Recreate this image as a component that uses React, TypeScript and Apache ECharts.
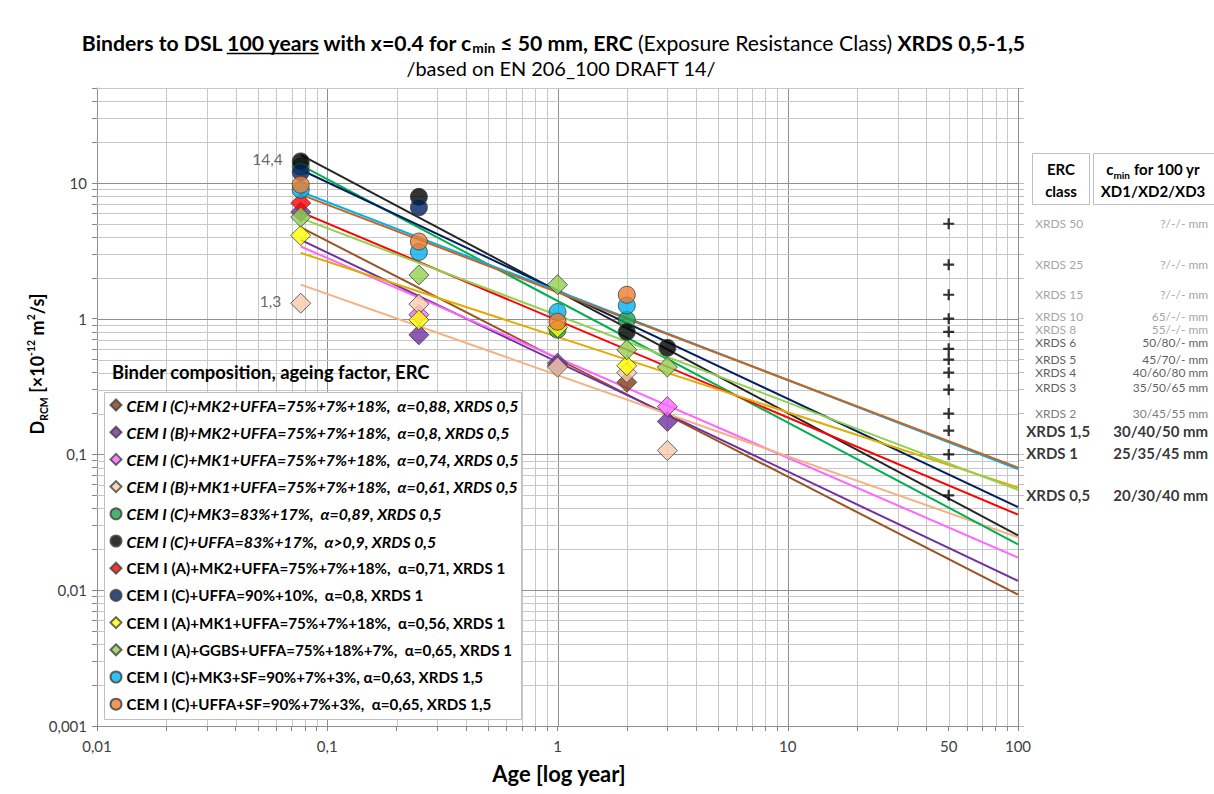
import React, { useEffect, useRef } from 'react';
import * as echarts from 'echarts';

// ---------------- data ----------------
const ageYears = [0.0767, 0.25, 1, 2, 3];

const binderLabels = [
  'CEM I (C)+MK2+UFFA=75%+7%+18%,  α=0,88, XRDS 0,5',
  'CEM I (B)+MK2+UFFA=75%+7%+18%,  α=0,8, XRDS 0,5',
  'CEM I (C)+MK1+UFFA=75%+7%+18%,  α=0,74, XRDS 0,5',
  'CEM I (B)+MK1+UFFA=75%+7%+18%,  α=0,61, XRDS 0,5',
  'CEM I (C)+MK3=83%+17%,  α=0,89, XRDS 0,5',
  'CEM I (C)+UFFA=83%+17%,  α>0,9, XRDS 0,5',
  'CEM I (A)+MK2+UFFA=75%+7%+18%,  α=0,71, XRDS 1',
  'CEM I (C)+UFFA=90%+10%,  α=0,8, XRDS 1',
  'CEM I (A)+MK1+UFFA=75%+7%+18%,  α=0,56, XRDS 1',
  'CEM I (A)+GGBS+UFFA=75%+18%+7%,  α=0,65, XRDS 1',
  'CEM I (C)+MK3+SF=90%+7%+3%, α=0,63, XRDS 1,5',
  'CEM I (C)+UFFA+SF=90%+7%+3%,  α=0,65, XRDS 1,5',
];

// measured D_RCM values at ageYears (null = not visible)
const dC_MK2_UFFA = [null, null, 0.45, 0.34, null];
const dB_MK2_UFFA = [6.1, 0.76, 0.47, null, 0.175];
const dC_MK1_UFFA = [null, 1.07, null, null, 0.225];
const dB_MK1_UFFA = [1.3, 1.28, 0.44, 0.40, 0.107];
const dC_MK3 = [13.2, null, 0.83, 0.98, null];
const dC_UFFA83 = [14.4, 7.9, null, 0.80, 0.61];
const dA_MK2_UFFA = [7.1, null, null, null, null];
const dC_UFFA90 = [12.0, 6.6, null, null, null];
const dA_MK1_UFFA = [4.1, 0.98, 0.86, 0.45, null];
const dA_GGBS_UFFA = [5.6, 2.1, 1.78, 0.59, 0.44];
const dC_MK3_SF = [8.9, 3.1, 1.12, 1.25, null];
const dC_UFFA_SF = [9.7, 3.7, 0.95, 1.5, null];

const binderValues = [
  dC_MK2_UFFA, dB_MK2_UFFA, dC_MK1_UFFA, dB_MK1_UFFA, dC_MK3, dC_UFFA83,
  dA_MK2_UFFA, dC_UFFA90, dA_MK1_UFFA, dA_GGBS_UFFA, dC_MK3_SF, dC_UFFA_SF,
];

// power trend lines: value at first age and at 100 years
const trendAges = [0.0767, 100];
const trendStart = [4.7, 3.8, 3.4, 1.78, 13.5, 16.1, 6.1, 12.5, 3.05, 5.5, 8.6, 8.2];
const trendEnd = [0.0093, 0.0117, 0.0174, 0.0245, 0.0218, 0.0254, 0.036, 0.041, 0.057, 0.055, 0.078, 0.080];

// ERC classes (D at 50 years) and cover table
const ercAge = 50;
const ercClasses = ['XRDS 50', 'XRDS 25', 'XRDS 15', 'XRDS 10', 'XRDS 8', 'XRDS 6', 'XRDS 5', 'XRDS 4', 'XRDS 3', 'XRDS 2', 'XRDS 1,5', 'XRDS 1', 'XRDS 0,5'];
const ercLevels = [5, 2.5, 1.5, 1.0, 0.8, 0.6, 0.5, 0.4, 0.3, 0.2, 0.15, 0.1, 0.05];
const ercCover = ['?/-/- mm', '?/-/- mm', '?/-/- mm', '65/-/- mm', '55/-/- mm', '50/80/- mm', '45/70/- mm', '40/60/80 mm', '35/50/65 mm', '30/45/55 mm', '30/40/50 mm', '25/35/45 mm', '20/30/40 mm'];

// axis ticks
const xLabelValues = [0.01, 0.1, 1, 10, 50, 100];
const yLabelValues = [0.001, 0.01, 0.1, 1, 10];
const xDecades = [0.01, 0.1, 1, 10];
const yDecades = [0.001, 0.01, 0.1, 1, 10];
const decadeSteps = [1, 2, 3, 4, 5, 6, 7, 8, 9];
const X_MIN = 0.01, X_MAX = 100, Y_MIN = 0.001, Y_MAX = 50;

// ---------------- styles ----------------
const FONT = 'Lato, "Noto Sans", sans-serif';
const markerColors = ['#7F3F1A', '#7030A0', '#FF66FF', '#F8CBAD', '#1AA050', '#000000', '#FF0000', '#002060', '#FFFF00', '#92D050', '#00B0F0', '#ED7D31'];
const lineColors = ['#9C5221', '#7030A0', '#FF66FF', '#F4B183', '#00B050', '#262626', '#FF0000', '#002060', '#E0AC00', '#92D050', '#00B0F0', '#C8641E'];
const markerShapes = ['diamond', 'diamond', 'diamond', 'diamond', 'circle', 'circle', 'diamond', 'circle', 'diamond', 'diamond', 'circle', 'circle'];

const fmt = (v: number) => String(Number(v.toPrecision(6))).replace('.', ',');

let measureCtx: CanvasRenderingContext2D | null = null;
function measure(text: string, font: string) {
  if (!measureCtx) measureCtx = document.createElement('canvas').getContext('2d') as CanvasRenderingContext2D;
  measureCtx.font = font;
  return measureCtx.measureText(text).width;
}
// font size at which `text` is `target` px wide
function fitSize(text: string, prefix: string, target: number) {
  const w = measure(text, `${prefix} 20px ${FONT}`);
  return (20 * target) / w;
}

function buildOption() {
  const gridData: number[][] = [];
  xDecades.forEach((d) => decadeSteps.forEach((s) => gridData.push([d * s, 1, s === 1 ? 1 : 0])));
  gridData.push([X_MAX, 1, 1]);
  yDecades.forEach((d) => decadeSteps.forEach((s) => { if (d * s <= Y_MAX + 1e-9) gridData.push([1, d * s, s === 1 ? 3 : 2]); }));
  for (const s of [2, 3, 4, 5]) { if (10 * s <= Y_MAX) gridData.push([1, 10 * s, 2]); }

  const tickValsX: number[] = [];
  xDecades.forEach((d) => decadeSteps.forEach((s) => tickValsX.push(d * s)));
  tickValsX.push(X_MAX);
  const tickValsY: number[] = [];
  yDecades.forEach((d) => decadeSteps.forEach((s) => { if (d * s <= Y_MAX) tickValsY.push(d * s); }));
  [20, 30, 40, 50].forEach((v) => tickValsY.push(v));

  const series: any[] = [];
  series.push({
    type: 'custom',
    name: 'grid',
    silent: true,
    z: 1,
    encode: { x: 0, y: 1 },
    data: gridData,
    renderItem: (params: any, api: any) => {
      const cs = params.coordSys;
      const kind = api.value(2);
      const major = kind === 1 || kind === 3;
      const stroke = major ? '#8f8f8f' : '#c8c8c8';
      if (kind < 2) {
        const x = Math.round(api.coord([api.value(0), 1])[0]) + 0.5;
        return { type: 'line', shape: { x1: x, y1: cs.y, x2: x, y2: cs.y + cs.height }, style: { stroke, lineWidth: 1 } };
      }
      const y = Math.round(api.coord([1, api.value(1)])[1]) + 0.5;
      return { type: 'line', shape: { x1: cs.x, y1: y, x2: cs.x + cs.width, y2: y }, style: { stroke, lineWidth: 1 } };
    },
  });

  binderLabels.forEach((name, i) => {
    series.push({
      type: 'line',
      name: name + ' (trend)',
      data: trendAges.map((a, j) => [a, j === 0 ? trendStart[i] : trendEnd[i]]),
      showSymbol: false,
      symbol: 'none',
      lineStyle: { color: lineColors[i], width: 2 },
      z: 4,
      silent: true,
    });
  });

  binderLabels.forEach((name, i) => {
    const data: any[] = [];
    binderValues[i].forEach((v, j) => {
      if (v == null) return;
      const item: any = { value: [ageYears[j], v] };
      if (j === 0 && (i === 5 || i === 3)) {
        item.label = {
          show: true, position: 'left', distance: 9, formatter: fmt(v),
          fontFamily: FONT, fontSize: 15.5, color: '#404040', offset: [0, -2],
        };
      }
      data.push(item);
    });
    series.push({
      type: 'scatter',
      name,
      data,
      symbol: markerShapes[i],
      symbolSize: markerShapes[i] === 'circle' ? 17 : 20,
      itemStyle: { color: markerColors[i], borderColor: '#404040', borderWidth: 1 },
      z: 5,
    });
  });

  const labelNudge: Record<string, number> = { 'XRDS 10': -2, 'XRDS 8': -2, 'XRDS 6': -6, 'XRDS 3': -2, 'XRDS 1': -1 };
  series.push({
    type: 'scatter',
    name: 'ERC',
    symbol: 'path://M4,0H6V4H10V6H6V10H4V6H0V4H4Z',
    symbolSize: 11,
    itemStyle: { color: '#000' },
    z: 6,
    data: ercLevels.map((lvl, k) => {
      const cls = ercClasses[k];
      const bold = lvl < 0.2;
      const dark = lvl >= 0.3 && lvl <= 0.6;
      const mid = lvl === 0.2;
      const col = bold ? '#000' : dark ? '#333333' : mid ? '#555555' : '#8c8c8c';
      const fs = bold ? 15 : 12;
      const lh = bold ? 18 : 12;
      return {
        value: [ercAge, lvl],
        label: {
          show: true,
          position: 'right',
          distance: 0,
          offset: [bold ? 72 : 81, labelNudge[cls] || 0],
          formatter: `{a|${cls}}{b|${ercCover[k]}}`,
          rich: {
            a: { width: bold ? 78 : 60, align: 'left', fontFamily: FONT, fontSize: fs, lineHeight: lh, fontWeight: bold ? 'bold' : 'normal', color: col },
            b: { width: bold ? 104 : 113, align: 'right', fontFamily: FONT, fontSize: fs, lineHeight: lh, fontWeight: bold ? 'bold' : 'normal', color: col },
          },
        },
      };
    }),
  });

  // Title pieces, fitted to the reference width, and underline measurement
  const p0 = 'Binders to DSL ';
  const p1 = '100 years';
  const p2 = ' with x=0.4 for c';
  const p3 = 'min';
  const p4 = ' ≤ 50 mm, ERC ';
  const p5 = '(Exposure Resistance Class)';
  const p6 = ' XRDS 0,5-1,5';
  const widthAt = (fs: number) =>
    measure(p0 + p1 + p2, `bold ${fs}px ${FONT}`) + measure(p3, `bold ${fs * 0.65}px ${FONT}`) +
    measure(p4, `bold ${fs}px ${FONT}`) + measure(p5, `normal ${fs}px ${FONT}`) + measure(p6, `bold ${fs}px ${FONT}`);
  const TF = (18 * 945) / widthAt(18);
  const W = widthAt(TF);
  const titleCx = 553;
  const ulX1 = titleCx - W / 2 + measure(p0, `bold ${TF}px ${FONT}`);
  const ulX2 = ulX1 + measure(p1, `bold ${TF}px ${FONT}`);

  const subText = '/based on EN 206_100 DRAFT 14/';
  const subFS = fitSize(subText, 'normal', 310);
  const legendItalicFS = fitSize(binderLabels[0], 'italic bold', 392);
  const legendUprightFS = fitSize(binderLabels[6], 'bold', 379);
  const headFS = fitSize('Binder composition, ageing factor, ERC', 'bold', 318);
  const xNameFS = fitSize('Age [log year]', 'bold', 134);

  const graphic: any[] = [
    {
      type: 'text', x: titleCx, y: 43, z: 20,
      style: {
        text: `{b|${p0}${p1}${p2}}{s|${p3}}{b|${p4}}{n|${p5}}{b|${p6}}`,
        align: 'center', verticalAlign: 'middle',
        rich: {
          b: { fontFamily: FONT, fontSize: TF, fontWeight: 'bold', fill: '#000', lineHeight: TF + 2 },
          n: { fontFamily: FONT, fontSize: TF, fontWeight: 'normal', fill: '#000', lineHeight: TF + 2 },
          s: { fontFamily: FONT, fontSize: TF * 0.65, fontWeight: 'bold', fill: '#000', lineHeight: TF * 0.65, verticalAlign: 'bottom' },
        },
      },
    },
    { type: 'line', z: 20, shape: { x1: ulX1, y1: 53.5, x2: ulX2, y2: 53.5 }, style: { stroke: '#000', lineWidth: 1.4 } },
    {
      type: 'text', x: 561, y: 68, z: 20,
      style: { text: subText, align: 'center', verticalAlign: 'middle', fontFamily: FONT, fontSize: subFS, lineHeight: subFS, fill: '#000' },
    },
    {
      type: 'text', x: 559, y: 773, z: 20,
      style: { text: 'Age [log year]', align: 'center', verticalAlign: 'middle', fontFamily: FONT, fontSize: xNameFS, fontWeight: 'bold', fill: '#000' },
    },
    {
      type: 'text', x: 37, y: 364, rotation: Math.PI / 2, z: 20,
      style: {
        text: '{b|D}{s|RCM}{b| [×10}{p|-12}{b| m}{p|2}{b|/s]}',
        align: 'center', verticalAlign: 'middle',
        rich: {
          b: { fontFamily: FONT, fontSize: 18, fontWeight: 'bold', fill: '#000', lineHeight: 24 },
          s: { fontFamily: FONT, fontSize: 10.5, fontWeight: 'bold', fill: '#000', lineHeight: 12, verticalAlign: 'bottom' },
          p: { fontFamily: FONT, fontSize: 10.5, fontWeight: 'bold', fill: '#000', lineHeight: 12, verticalAlign: 'top' },
        },
      },
    },
    // legend frame + heading
    { type: 'rect', z: 3, shape: { x: 104.5, y: 392.5, width: 417, height: 327 }, style: { fill: '#fff', stroke: '#bfbfbf', lineWidth: 1 } },
    {
      type: 'text', x: 112, y: 372, z: 20,
      style: { text: 'Binder composition, ageing factor, ERC', align: 'left', verticalAlign: 'middle', fontFamily: FONT, fontSize: headFS, fontWeight: 'bold', fill: '#000' },
    },
    // ERC table header
    { type: 'rect', z: 3, shape: { x: 1032.5, y: 153.5, width: 57, height: 51 }, style: { fill: '#fff', stroke: '#bfbfbf', lineWidth: 1 } },
    { type: 'rect', z: 3, shape: { x: 1093.5, y: 153.5, width: 125, height: 51 }, style: { fill: '#fff', stroke: '#bfbfbf', lineWidth: 1 } },
    {
      type: 'text', x: 1061, y: 180, z: 20,
      style: { text: 'ERC\nclass', align: 'center', verticalAlign: 'middle', fontFamily: FONT, fontSize: 15, fontWeight: 'bold', fill: '#000', lineHeight: 22 },
    },
    {
      type: 'text', x: 1153, y: 180, z: 20,
      style: {
        text: '{b|c}{s|min}{b| for 100 yr}\n{b|XD1/XD2/XD3}',
        align: 'center', verticalAlign: 'middle',
        rich: {
          b: { fontFamily: FONT, fontSize: 15, fontWeight: 'bold', fill: '#000', lineHeight: 22 },
          s: { fontFamily: FONT, fontSize: 10, fontWeight: 'bold', fill: '#000', lineHeight: 12, verticalAlign: 'bottom' },
        },
      },
    },
  ];

  const axisLabelStyle = { fontFamily: FONT, fontSize: 15, color: '#404040' };
  const rowPitch = 27.2;
  const legendLH = 18;

  return {
    animation: false,
    backgroundColor: '#fff',
    grid: { left: 97, right: 196, top: 88, bottom: 68, containLabel: false },
    xAxis: {
      type: 'log', min: X_MIN, max: X_MAX, logBase: 10,
      axisLine: { show: true, lineStyle: { color: '#868686' } },
      axisTick: { show: true, length: 5, customValues: tickValsX, lineStyle: { color: '#868686' } },
      axisLabel: { ...axisLabelStyle, margin: 12, customValues: xLabelValues, formatter: (v: number) => fmt(v) },
      splitLine: { show: false },
      minorTick: { show: false },
    },
    yAxis: [
      {
        type: 'log', min: Y_MIN, max: Y_MAX, logBase: 10,
        axisLine: { show: true, lineStyle: { color: '#868686' } },
        axisTick: { show: true, length: 5, customValues: tickValsY, lineStyle: { color: '#868686' } },
        axisLabel: { ...axisLabelStyle, margin: 10, customValues: yLabelValues, formatter: (v: number) => fmt(v) },
        splitLine: { show: false },
      },
      {
        type: 'log', min: Y_MIN, max: Y_MAX, logBase: 10, position: 'right',
        axisLine: { show: false },
        axisTick: { show: true, length: 6, customValues: tickValsY, lineStyle: { color: '#bdbdbd' } },
        axisLabel: { show: false },
        splitLine: { show: false },
      },
    ],
    legend: {
      orient: 'vertical', left: 109.5, top: 405 - legendLH / 2, padding: 0,
      itemGap: rowPitch - legendLH, itemWidth: 11, itemHeight: 11,
      selectedMode: false, z: 10,
      textStyle: { fontFamily: FONT, fontSize: legendUprightFS, fontWeight: 'bold', color: '#000', lineHeight: legendLH },
      data: binderLabels.map((n, i) => ({
        name: n,
        icon: markerShapes[i],
        textStyle: i < 6 ? { fontStyle: 'italic', fontSize: legendItalicFS } : { fontStyle: 'normal', fontSize: legendUprightFS },
      })),
    },
    graphic,
    series,
  };
}

export default function App() {
  const ref = useRef<HTMLDivElement>(null);
  useEffect(() => {
    if (!ref.current) return;
    const chart = echarts.init(ref.current, null, { renderer: 'svg' });
    chart.setOption(buildOption() as any);
    return () => chart.dispose();
  }, []);
  return <div ref={ref} style={{ position: 'fixed', left: 0, top: 0, width: 1214, height: 794, background: '#fff' }} />;
}
